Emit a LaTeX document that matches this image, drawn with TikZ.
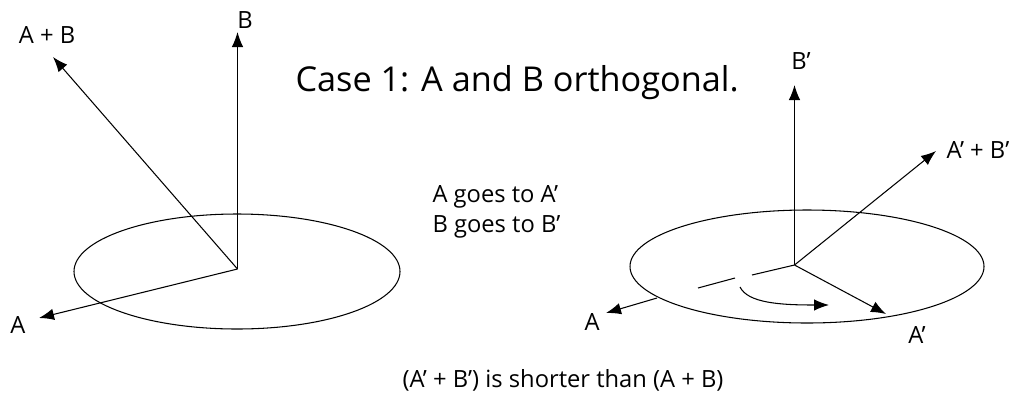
\documentclass[tikz,border=0pt]{standalone}
\usepackage{fontspec}
\setmainfont{Open Sans}
\usetikzlibrary{arrows.meta}
\tikzset{>={Latex}}

\begin{document}
\begin{tikzpicture}[x=0.02cm, y=-0.02cm, line width=0.6pt, font=\fontsize{13.5}{15}\selectfont]

  \tikzset{vec/.style={->, >={Latex[length=3mm, width=2.3mm]}},
           lbl/.style={inner sep=1pt}}

  \useasboundingbox (0,0) rectangle (1013,393);

  % left picture: A and B
  \draw (237,271.5) ellipse [x radius=163, y radius=57.5];
  \coordinate (o) at (237.5,269);
  \coordinate (tb) at (237.5,32);
  \coordinate (tab) at (53,57);
  \coordinate (ta) at (39,318);
  \node[lbl] (b) at (245,20) {B};
  \node[lbl] (ab) at (47,35) {A + B};
  \node[lbl] (a) at (18,325) {A};
  \draw[vec] (o) -- (tb);
  \draw[vec] (o) -- (tab);
  \draw[vec] (o) -- (ta);

  % right picture: A' and B'
  \draw (807,266.5) ellipse [x radius=177, y radius=56.5];
  \coordinate (o2) at (794.5,265);
  \coordinate (tb2) at (794.5,85);
  \coordinate (tab2) at (936,151);
  \coordinate (ta2) at (886,314);
  \coordinate (d1) at (752,275);
  \coordinate (d2) at (735,278);
  \coordinate (d3) at (698,288);
  \coordinate (d4) at (657,298);
  \coordinate (tl) at (606,313);
  \node[lbl] (b2) at (801,61) {B'};
  \node[lbl] (ab2) at (978,150) {A' + B'};
  \node[lbl] (a2) at (917,335) {A'};
  \node[lbl] (al) at (592,322) {A};
  \draw[vec] (o2) -- (tb2);
  \draw[vec] (o2) -- (tab2);
  \draw[vec] (o2) -- (ta2);
  \draw (o2) -- (d1) (d2) -- (d3);
  \draw[vec] (d4) -- (tl);
  \draw[vec] (740,287) .. controls (748,303) and (780,305) .. (829,305);

  % texts
  \node[anchor=west, inner sep=0pt] (title) at (295,83)
    {\fontsize{19.5}{22}\selectfont Case 1: A and B orthogonal.};
  \node[anchor=west, inner sep=0pt] (t1) at (432,197) {A goes to A'};
  \node[anchor=west, inner sep=0pt] (t2) at (432,227) {B goes to B'};
  \node[anchor=west, inner sep=0pt] (t3) at (402,380) {(A' + B') is shorter than (A + B)};

\end{tikzpicture}
\end{document}
